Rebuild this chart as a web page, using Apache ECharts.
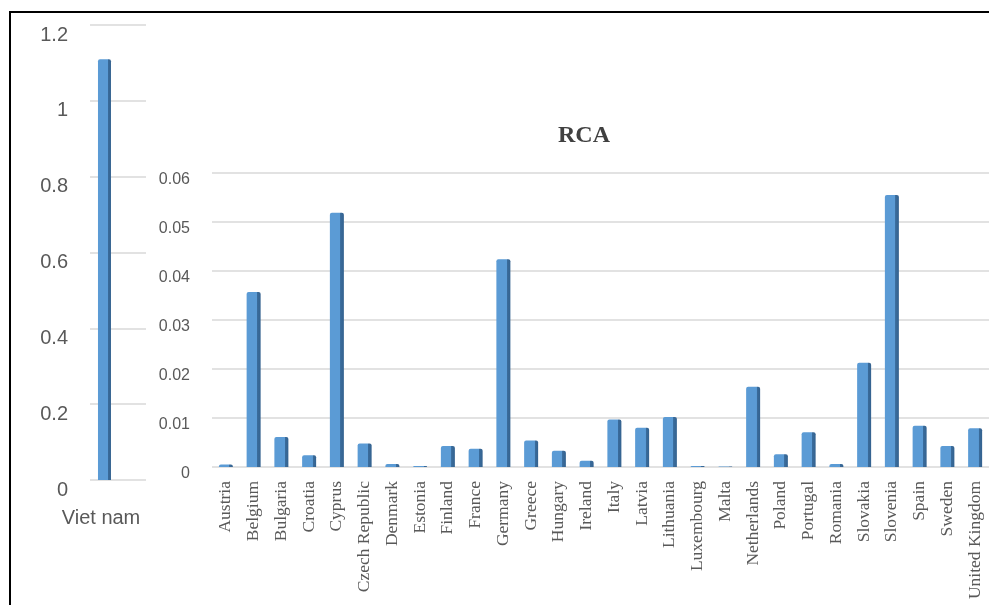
<!DOCTYPE html>
<html>
<head>
<meta charset="utf-8">
<script src="https://cdn.jsdelivr.net/npm/echarts@6/dist/echarts.min.js"></script>
<style>
html,body{margin:0;padding:0;background:#fff;}
#c{width:989px;height:605px;}
</style>
</head>
<body>
<div id="c"></div>
<script>
// ---- data ----
const mainCategories = ['Viet nam'];
const mainValues = [1.11];
const mainTicks = { min: 0, max: 1.2, interval: 0.2 };

const euCategories = ['Austria','Belgium','Bulgaria','Croatia','Cyprus','Czech Republic','Denmark','Estonia','Finland','France','Germany','Greece','Hungary','Ireland','Italy','Latvia','Lithuania','Luxembourg','Malta','Netherlands','Poland','Portugal','Romania','Slovakia','Slovenia','Spain','Sweden','United Kingdom'];
const euValues = [0.0005,0.0357,0.0061,0.0024,0.0519,0.0048,0.0006,0.0002,0.0043,0.0037,0.0424,0.0054,0.0033,0.0013,0.0097,0.0080,0.0102,0.0002,0.0001,0.0164,0.0026,0.0071,0.0006,0.0213,0.0555,0.0084,0.0043,0.0079];
const euTicks = { min: 0, max: 0.06, interval: 0.01 };
const titleText = 'RCA';

// ---- styling ----
const barFill = new echarts.graphic.LinearGradient(0, 0, 1, 0, [
  { offset: 0, color: '#5b9bd5' },
  { offset: 0.74, color: '#5b9bd5' },
  { offset: 0.76, color: '#3a6c9c' },
  { offset: 1, color: '#34628f' }
]);
const gridColor = '#d9d9d9';
const labelColor = '#595959';

const chart = echarts.init(document.getElementById('c'));
chart.setOption({
  backgroundColor: '#fff',
  animation: false,
  title: {
    text: titleText,
    left: 579, top: 119, textAlign: 'center',
    textStyle: { fontFamily: 'Liberation Serif', fontWeight: 'bold', fontSize: 24, color: '#404040' }
  },
  graphic: [
    { type: 'line', shape: { x1: 9, y1: 12, x2: 989, y2: 12 }, style: { stroke: '#000', lineWidth: 2 } },
    { type: 'line', shape: { x1: 10, y1: 11, x2: 10, y2: 605 }, style: { stroke: '#000', lineWidth: 2 } }
  ],
  grid: [
    { left: 90, width: 56, top: 25, height: 455 },
    { left: 212, right: 0, top: 173, height: 294 }
  ],
  xAxis: [
    {
      gridIndex: 0, type: 'category', data: mainCategories,
      axisLine: { show: false }, axisTick: { show: false },
      axisLabel: { color: labelColor, fontFamily: 'Liberation Sans', fontSize: 20, margin: 28, padding: [0, 34, 0, 0] }
    },
    {
      gridIndex: 1, type: 'category', data: euCategories,
      axisLine: { show: false }, axisTick: { show: false },
      axisLabel: { color: labelColor, fontFamily: 'Liberation Serif', fontSize: 17.5, rotate: 90, margin: 14, interval: 0 }
    }
  ],
  yAxis: [
    {
      gridIndex: 0, type: 'value', min: mainTicks.min, max: mainTicks.max, interval: mainTicks.interval,
      axisLine: { show: false }, axisTick: { show: false },
      splitLine: { lineStyle: { color: gridColor, width: 1.5 } },
      axisLabel: { color: labelColor, fontFamily: 'Liberation Sans', fontSize: 20, margin: 22, verticalAlign: 'top', lineHeight: 20 }
    },
    {
      gridIndex: 1, type: 'value', min: euTicks.min, max: euTicks.max, interval: euTicks.interval,
      axisLine: { show: false }, axisTick: { show: false },
      splitLine: { lineStyle: { color: gridColor, width: 1.5 } },
      axisLabel: { color: labelColor, fontFamily: 'Liberation Sans', fontSize: 16, margin: 22, verticalAlign: 'top', lineHeight: 14 }
    }
  ],
  series: [
    {
      type: 'bar', xAxisIndex: 0, yAxisIndex: 0, data: mainValues,
      barWidth: 13, barGap: '108%',
      itemStyle: { color: barFill, borderRadius: [2, 2, 0, 0] }
    },
    {
      // empty companion slot reproducing the 3D-perspective left offset of the Viet nam column
      type: 'bar', xAxisIndex: 0, yAxisIndex: 0, data: mainValues.map(() => null),
      barWidth: 13, silent: true
    },
    {
      type: 'bar', xAxisIndex: 1, yAxisIndex: 1, data: euValues,
      barWidth: 14,
      itemStyle: { color: barFill, borderRadius: [2, 2, 0, 0] }
    }
  ]
});
</script>
</body>
</html>
